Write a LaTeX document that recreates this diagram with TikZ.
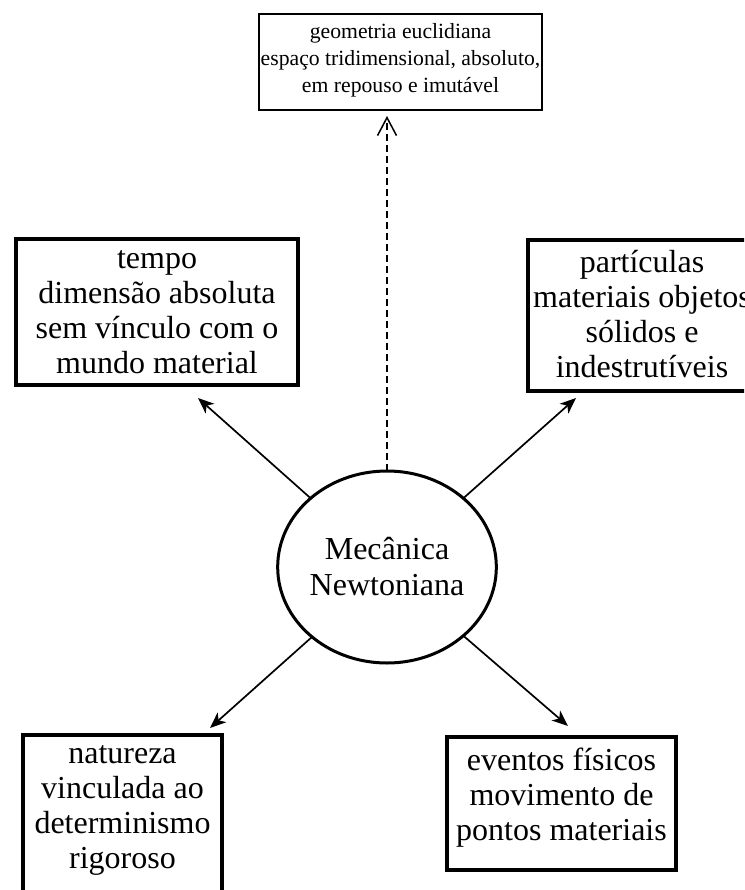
\documentclass[tikz,border=0pt]{standalone}
\usepackage{fontspec}
\setmainfont{Liberation Serif}
\usetikzlibrary{positioning,shapes.geometric,arrows.meta}

\begin{document}
\begin{tikzpicture}[x=1pt, y=-1pt,
    box/.style={draw, line width=4pt, inner sep=0pt, outer sep=0pt, align=center,
      font=\fontsize{32}{35}\selectfont},
    nucleo/.style={ellipse, draw, line width=3pt, inner sep=0pt, outer sep=0pt, align=center,
      minimum width=206pt, minimum height=192pt, font=\fontsize{32}{36}\selectfont},
    seta/.style={line width=1.7pt, -{Stealth[length=16pt, width=13pt, inset=4.5pt]}}]
  \useasboundingbox (0,0) rectangle (744,890);
  \clip (0,0) rectangle (744,890);

  \node[nucleo] (mec) at (387,567) {Mecânica\\Newtoniana};
  \node[draw, line width=1.5pt, inner sep=0pt, outer sep=0pt, align=center,
    minimum width=283pt, minimum height=96pt, font=\fontsize{21.7}{27}\selectfont,
    text depth=8pt] (geo) at (400.5,62)
    {geometria euclidiana\\espaço tridimensional, absoluto,\\em repouso e imutável};
  \node[box, minimum width=282pt, minimum height=146pt] (tempo) at (157,312)
    {tempo\\dimensão absoluta\\sem vínculo com o\\mundo material};
  \node[box, minimum width=228pt, minimum height=151pt, text depth=4pt] (part) at (642,315.5)
    {partículas\\materiais objetos\\sólidos e\\indestrutíveis};
  \node[box, anchor=north, minimum width=199pt, minimum height=180pt, text depth=37pt]
    (nat) at (122.5,735) {natureza\\vinculada ao\\determinismo\\rigoroso};
  \node[box, minimum width=229pt, minimum height=133pt, text depth=19pt]
    (evt) at (561.5,803.5) {eventos físicos\\movimento de\\pontos materiais};

  % ligacoes a partir do centro
  \draw[line width=1.5pt, dash pattern=on 7pt off 4pt, shorten >=6pt,
    -{Straight Barb[length=18pt, width=19pt]}] (mec.north) -- (mec.north |- geo.south);
  \draw[seta] (mec.138) -- ([xshift=41pt, yshift=-13pt]tempo.south);
  \draw[seta] (mec.42) -- ([xshift=-66pt, yshift=-7pt]part.south);
  \draw[seta] (mec.-137) -- ([xshift=87.5pt, yshift=7pt]nat.north);
  \draw[seta] (mec.-42) -- ([xshift=6.5pt, yshift=11pt]evt.north);
\end{tikzpicture}
\end{document}
